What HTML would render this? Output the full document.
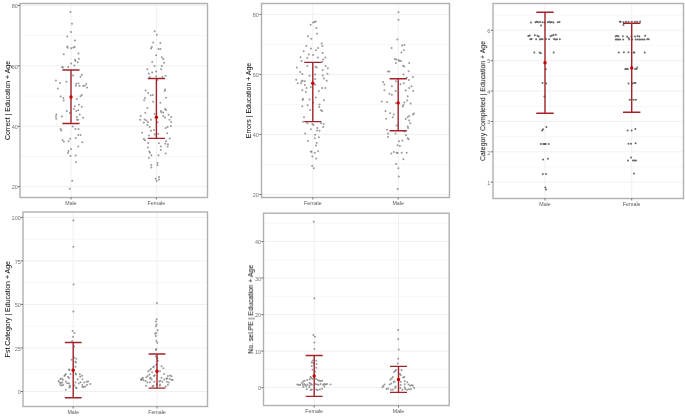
<!DOCTYPE html><html><head><meta charset="utf-8"><style>html,body{margin:0;padding:0;background:#fff;}svg{display:block;}text{font-family:"Liberation Sans", sans-serif;}</style></head><body>
<svg width="685" height="417" viewBox="0 0 685 417">
<rect width="685" height="417" fill="#fff"/>
<line x1="20.0" x2="207.5" y1="156.48" y2="156.48" stroke="#f6f6f6" stroke-width="0.9"/>
<line x1="20.0" x2="207.5" y1="96.05" y2="96.05" stroke="#f6f6f6" stroke-width="0.9"/>
<line x1="20.0" x2="207.5" y1="35.62" y2="35.62" stroke="#f6f6f6" stroke-width="0.9"/>
<line x1="20.0" x2="207.5" y1="186.70" y2="186.70" stroke="#f0f0f0" stroke-width="1"/>
<line x1="20.0" x2="207.5" y1="126.27" y2="126.27" stroke="#f0f0f0" stroke-width="1"/>
<line x1="20.0" x2="207.5" y1="65.83" y2="65.83" stroke="#f0f0f0" stroke-width="1"/>
<line x1="20.0" x2="207.5" y1="5.40" y2="5.40" stroke="#f0f0f0" stroke-width="1"/>
<line x1="71.0" x2="71.0" y1="3.5" y2="197.5" stroke="#f0f0f0" stroke-width="1"/>
<line x1="156.4" x2="156.4" y1="3.5" y2="197.5" stroke="#f0f0f0" stroke-width="1"/>
<circle cx="70.4" cy="12.0" r="1.0" fill="#666" fill-opacity="0.66"/>
<circle cx="72.0" cy="23.7" r="1.0" fill="#666" fill-opacity="0.66"/>
<circle cx="71.0" cy="32.0" r="1.0" fill="#666" fill-opacity="0.66"/>
<circle cx="67.3" cy="36.5" r="1.0" fill="#666" fill-opacity="0.66"/>
<circle cx="74.9" cy="40.5" r="1.0" fill="#666" fill-opacity="0.66"/>
<circle cx="67.3" cy="46.6" r="1.0" fill="#666" fill-opacity="0.66"/>
<circle cx="67.6" cy="47.8" r="1.0" fill="#666" fill-opacity="0.66"/>
<circle cx="71.2" cy="48.3" r="1.0" fill="#666" fill-opacity="0.66"/>
<circle cx="73.4" cy="47.4" r="1.0" fill="#666" fill-opacity="0.66"/>
<circle cx="74.6" cy="47.1" r="1.0" fill="#666" fill-opacity="0.66"/>
<circle cx="63.7" cy="54.2" r="1.0" fill="#666" fill-opacity="0.66"/>
<circle cx="78.5" cy="53.6" r="1.0" fill="#666" fill-opacity="0.66"/>
<circle cx="79.0" cy="58.8" r="1.0" fill="#666" fill-opacity="0.66"/>
<circle cx="75.1" cy="59.8" r="1.0" fill="#666" fill-opacity="0.66"/>
<circle cx="75.4" cy="61.1" r="1.0" fill="#666" fill-opacity="0.66"/>
<circle cx="77.7" cy="62.3" r="1.0" fill="#666" fill-opacity="0.66"/>
<circle cx="71.2" cy="63.4" r="1.0" fill="#666" fill-opacity="0.66"/>
<circle cx="74.3" cy="65.5" r="1.0" fill="#666" fill-opacity="0.66"/>
<circle cx="68.1" cy="66.9" r="1.0" fill="#666" fill-opacity="0.66"/>
<circle cx="62.1" cy="67.0" r="1.0" fill="#666" fill-opacity="0.66"/>
<circle cx="62.9" cy="67.6" r="1.0" fill="#666" fill-opacity="0.66"/>
<circle cx="73.0" cy="75.6" r="1.0" fill="#666" fill-opacity="0.66"/>
<circle cx="80.5" cy="76.7" r="1.0" fill="#666" fill-opacity="0.66"/>
<circle cx="81.8" cy="74.7" r="1.0" fill="#666" fill-opacity="0.66"/>
<circle cx="55.9" cy="80.6" r="1.0" fill="#666" fill-opacity="0.66"/>
<circle cx="66.5" cy="81.7" r="1.0" fill="#666" fill-opacity="0.66"/>
<circle cx="60.1" cy="83.1" r="1.0" fill="#666" fill-opacity="0.66"/>
<circle cx="76.2" cy="83.7" r="1.0" fill="#666" fill-opacity="0.66"/>
<circle cx="78.5" cy="83.4" r="1.0" fill="#666" fill-opacity="0.66"/>
<circle cx="75.9" cy="85.7" r="1.0" fill="#666" fill-opacity="0.66"/>
<circle cx="79.6" cy="86.0" r="1.0" fill="#666" fill-opacity="0.66"/>
<circle cx="83.2" cy="85.7" r="1.0" fill="#666" fill-opacity="0.66"/>
<circle cx="84.7" cy="85.7" r="1.0" fill="#666" fill-opacity="0.66"/>
<circle cx="86.3" cy="84.0" r="1.0" fill="#666" fill-opacity="0.66"/>
<circle cx="87.1" cy="87.6" r="1.0" fill="#666" fill-opacity="0.66"/>
<circle cx="57.8" cy="88.4" r="1.0" fill="#666" fill-opacity="0.66"/>
<circle cx="60.6" cy="96.6" r="1.0" fill="#666" fill-opacity="0.66"/>
<circle cx="63.4" cy="98.0" r="1.0" fill="#666" fill-opacity="0.66"/>
<circle cx="63.7" cy="100.5" r="1.0" fill="#666" fill-opacity="0.66"/>
<circle cx="76.9" cy="99.0" r="1.0" fill="#666" fill-opacity="0.66"/>
<circle cx="80.5" cy="96.2" r="1.0" fill="#666" fill-opacity="0.66"/>
<circle cx="81.8" cy="94.9" r="1.0" fill="#666" fill-opacity="0.66"/>
<circle cx="74.9" cy="106.3" r="1.0" fill="#666" fill-opacity="0.66"/>
<circle cx="79.0" cy="104.7" r="1.0" fill="#666" fill-opacity="0.66"/>
<circle cx="81.8" cy="106.8" r="1.0" fill="#666" fill-opacity="0.66"/>
<circle cx="73.8" cy="109.1" r="1.0" fill="#666" fill-opacity="0.66"/>
<circle cx="76.2" cy="111.0" r="1.0" fill="#666" fill-opacity="0.66"/>
<circle cx="78.2" cy="110.2" r="1.0" fill="#666" fill-opacity="0.66"/>
<circle cx="66.8" cy="111.0" r="1.0" fill="#666" fill-opacity="0.66"/>
<circle cx="69.9" cy="113.0" r="1.0" fill="#666" fill-opacity="0.66"/>
<circle cx="79.7" cy="114.5" r="1.0" fill="#666" fill-opacity="0.66"/>
<circle cx="56.4" cy="114.5" r="1.0" fill="#666" fill-opacity="0.66"/>
<circle cx="55.9" cy="116.4" r="1.0" fill="#666" fill-opacity="0.66"/>
<circle cx="56.2" cy="118.8" r="1.0" fill="#666" fill-opacity="0.66"/>
<circle cx="61.8" cy="116.4" r="1.0" fill="#666" fill-opacity="0.66"/>
<circle cx="76.9" cy="116.9" r="1.0" fill="#666" fill-opacity="0.66"/>
<circle cx="76.9" cy="119.8" r="1.0" fill="#666" fill-opacity="0.66"/>
<circle cx="78.2" cy="119.8" r="1.0" fill="#666" fill-opacity="0.66"/>
<circle cx="83.2" cy="117.7" r="1.0" fill="#666" fill-opacity="0.66"/>
<circle cx="60.6" cy="128.9" r="1.0" fill="#666" fill-opacity="0.66"/>
<circle cx="72.7" cy="126.5" r="1.0" fill="#666" fill-opacity="0.66"/>
<circle cx="75.4" cy="128.9" r="1.0" fill="#666" fill-opacity="0.66"/>
<circle cx="78.5" cy="128.9" r="1.0" fill="#666" fill-opacity="0.66"/>
<circle cx="61.3" cy="130.5" r="1.0" fill="#666" fill-opacity="0.66"/>
<circle cx="78.2" cy="135.1" r="1.0" fill="#666" fill-opacity="0.66"/>
<circle cx="80.5" cy="135.1" r="1.0" fill="#666" fill-opacity="0.66"/>
<circle cx="75.7" cy="137.9" r="1.0" fill="#666" fill-opacity="0.66"/>
<circle cx="70.2" cy="138.7" r="1.0" fill="#666" fill-opacity="0.66"/>
<circle cx="68.5" cy="141.3" r="1.0" fill="#666" fill-opacity="0.66"/>
<circle cx="62.6" cy="140.1" r="1.0" fill="#666" fill-opacity="0.66"/>
<circle cx="63.9" cy="141.8" r="1.0" fill="#666" fill-opacity="0.66"/>
<circle cx="82.2" cy="142.3" r="1.0" fill="#666" fill-opacity="0.66"/>
<circle cx="78.2" cy="146.5" r="1.0" fill="#666" fill-opacity="0.66"/>
<circle cx="71.0" cy="149.0" r="1.0" fill="#666" fill-opacity="0.66"/>
<circle cx="68.5" cy="151.0" r="1.0" fill="#666" fill-opacity="0.66"/>
<circle cx="68.0" cy="153.0" r="1.0" fill="#666" fill-opacity="0.66"/>
<circle cx="70.5" cy="156.0" r="1.0" fill="#666" fill-opacity="0.66"/>
<circle cx="75.7" cy="155.5" r="1.0" fill="#666" fill-opacity="0.66"/>
<circle cx="76.0" cy="161.9" r="1.0" fill="#666" fill-opacity="0.66"/>
<circle cx="72.2" cy="180.8" r="1.0" fill="#666" fill-opacity="0.66"/>
<circle cx="69.8" cy="188.7" r="1.0" fill="#666" fill-opacity="0.66"/>
<circle cx="154.6" cy="31.3" r="1.0" fill="#666" fill-opacity="0.66"/>
<circle cx="156.8" cy="34.8" r="1.0" fill="#666" fill-opacity="0.66"/>
<circle cx="153.2" cy="42.4" r="1.0" fill="#666" fill-opacity="0.66"/>
<circle cx="160.4" cy="43.1" r="1.0" fill="#666" fill-opacity="0.66"/>
<circle cx="151.8" cy="47.1" r="1.0" fill="#666" fill-opacity="0.66"/>
<circle cx="151.0" cy="48.6" r="1.0" fill="#666" fill-opacity="0.66"/>
<circle cx="158.5" cy="48.9" r="1.0" fill="#666" fill-opacity="0.66"/>
<circle cx="160.4" cy="48.9" r="1.0" fill="#666" fill-opacity="0.66"/>
<circle cx="156.1" cy="55.3" r="1.0" fill="#666" fill-opacity="0.66"/>
<circle cx="161.8" cy="57.2" r="1.0" fill="#666" fill-opacity="0.66"/>
<circle cx="163.3" cy="58.9" r="1.0" fill="#666" fill-opacity="0.66"/>
<circle cx="152.2" cy="62.1" r="1.0" fill="#666" fill-opacity="0.66"/>
<circle cx="164.0" cy="62.7" r="1.0" fill="#666" fill-opacity="0.66"/>
<circle cx="154.6" cy="66.1" r="1.0" fill="#666" fill-opacity="0.66"/>
<circle cx="161.8" cy="66.1" r="1.0" fill="#666" fill-opacity="0.66"/>
<circle cx="147.4" cy="69.3" r="1.0" fill="#666" fill-opacity="0.66"/>
<circle cx="161.1" cy="69.3" r="1.0" fill="#666" fill-opacity="0.66"/>
<circle cx="152.2" cy="72.5" r="1.0" fill="#666" fill-opacity="0.66"/>
<circle cx="156.1" cy="71.5" r="1.0" fill="#666" fill-opacity="0.66"/>
<circle cx="148.9" cy="73.6" r="1.0" fill="#666" fill-opacity="0.66"/>
<circle cx="149.6" cy="77.2" r="1.0" fill="#666" fill-opacity="0.66"/>
<circle cx="156.1" cy="76.2" r="1.0" fill="#666" fill-opacity="0.66"/>
<circle cx="162.5" cy="76.8" r="1.0" fill="#666" fill-opacity="0.66"/>
<circle cx="165.7" cy="75.8" r="1.0" fill="#666" fill-opacity="0.66"/>
<circle cx="157.5" cy="80.1" r="1.0" fill="#666" fill-opacity="0.66"/>
<circle cx="145.6" cy="90.6" r="1.0" fill="#666" fill-opacity="0.66"/>
<circle cx="165.1" cy="89.5" r="1.0" fill="#666" fill-opacity="0.66"/>
<circle cx="164.7" cy="90.9" r="1.0" fill="#666" fill-opacity="0.66"/>
<circle cx="148.2" cy="93.1" r="1.0" fill="#666" fill-opacity="0.66"/>
<circle cx="150.7" cy="95.2" r="1.0" fill="#666" fill-opacity="0.66"/>
<circle cx="152.8" cy="94.9" r="1.0" fill="#666" fill-opacity="0.66"/>
<circle cx="145.0" cy="98.1" r="1.0" fill="#666" fill-opacity="0.66"/>
<circle cx="144.1" cy="100.3" r="1.0" fill="#666" fill-opacity="0.66"/>
<circle cx="166.1" cy="97.8" r="1.0" fill="#666" fill-opacity="0.66"/>
<circle cx="153.2" cy="101.7" r="1.0" fill="#666" fill-opacity="0.66"/>
<circle cx="160.4" cy="102.7" r="1.0" fill="#666" fill-opacity="0.66"/>
<circle cx="147.4" cy="107.9" r="1.0" fill="#666" fill-opacity="0.66"/>
<circle cx="165.1" cy="108.9" r="1.0" fill="#666" fill-opacity="0.66"/>
<circle cx="166.1" cy="109.9" r="1.0" fill="#666" fill-opacity="0.66"/>
<circle cx="160.8" cy="111.1" r="1.0" fill="#666" fill-opacity="0.66"/>
<circle cx="161.4" cy="112.2" r="1.0" fill="#666" fill-opacity="0.66"/>
<circle cx="145.3" cy="112.8" r="1.0" fill="#666" fill-opacity="0.66"/>
<circle cx="163.3" cy="112.5" r="1.0" fill="#666" fill-opacity="0.66"/>
<circle cx="154.6" cy="113.9" r="1.0" fill="#666" fill-opacity="0.66"/>
<circle cx="168.6" cy="114.7" r="1.0" fill="#666" fill-opacity="0.66"/>
<circle cx="140.7" cy="116.1" r="1.0" fill="#666" fill-opacity="0.66"/>
<circle cx="163.3" cy="116.1" r="1.0" fill="#666" fill-opacity="0.66"/>
<circle cx="165.1" cy="117.5" r="1.0" fill="#666" fill-opacity="0.66"/>
<circle cx="171.2" cy="117.1" r="1.0" fill="#666" fill-opacity="0.66"/>
<circle cx="140.2" cy="119.7" r="1.0" fill="#666" fill-opacity="0.66"/>
<circle cx="144.6" cy="119.4" r="1.0" fill="#666" fill-opacity="0.66"/>
<circle cx="146.4" cy="120.4" r="1.0" fill="#666" fill-opacity="0.66"/>
<circle cx="151.0" cy="119.7" r="1.0" fill="#666" fill-opacity="0.66"/>
<circle cx="169.5" cy="119.7" r="1.0" fill="#666" fill-opacity="0.66"/>
<circle cx="171.2" cy="121.9" r="1.0" fill="#666" fill-opacity="0.66"/>
<circle cx="147.9" cy="122.3" r="1.0" fill="#666" fill-opacity="0.66"/>
<circle cx="143.8" cy="122.6" r="1.0" fill="#666" fill-opacity="0.66"/>
<circle cx="157.5" cy="122.2" r="1.0" fill="#666" fill-opacity="0.66"/>
<circle cx="147.4" cy="125.0" r="1.0" fill="#666" fill-opacity="0.66"/>
<circle cx="149.6" cy="126.9" r="1.0" fill="#666" fill-opacity="0.66"/>
<circle cx="165.7" cy="127.9" r="1.0" fill="#666" fill-opacity="0.66"/>
<circle cx="167.6" cy="126.9" r="1.0" fill="#666" fill-opacity="0.66"/>
<circle cx="170.9" cy="126.0" r="1.0" fill="#666" fill-opacity="0.66"/>
<circle cx="151.0" cy="130.8" r="1.0" fill="#666" fill-opacity="0.66"/>
<circle cx="153.9" cy="130.1" r="1.0" fill="#666" fill-opacity="0.66"/>
<circle cx="142.1" cy="132.7" r="1.0" fill="#666" fill-opacity="0.66"/>
<circle cx="167.2" cy="133.2" r="1.0" fill="#666" fill-opacity="0.66"/>
<circle cx="148.9" cy="135.5" r="1.0" fill="#666" fill-opacity="0.66"/>
<circle cx="154.6" cy="134.4" r="1.0" fill="#666" fill-opacity="0.66"/>
<circle cx="158.2" cy="134.0" r="1.0" fill="#666" fill-opacity="0.66"/>
<circle cx="143.8" cy="139.0" r="1.0" fill="#666" fill-opacity="0.66"/>
<circle cx="145.0" cy="140.2" r="1.0" fill="#666" fill-opacity="0.66"/>
<circle cx="169.7" cy="138.4" r="1.0" fill="#666" fill-opacity="0.66"/>
<circle cx="166.1" cy="141.3" r="1.0" fill="#666" fill-opacity="0.66"/>
<circle cx="148.2" cy="143.0" r="1.0" fill="#666" fill-opacity="0.66"/>
<circle cx="158.9" cy="143.3" r="1.0" fill="#666" fill-opacity="0.66"/>
<circle cx="165.4" cy="143.8" r="1.0" fill="#666" fill-opacity="0.66"/>
<circle cx="168.0" cy="144.2" r="1.0" fill="#666" fill-opacity="0.66"/>
<circle cx="160.8" cy="146.6" r="1.0" fill="#666" fill-opacity="0.66"/>
<circle cx="167.6" cy="146.6" r="1.0" fill="#666" fill-opacity="0.66"/>
<circle cx="147.9" cy="147.6" r="1.0" fill="#666" fill-opacity="0.66"/>
<circle cx="160.8" cy="149.9" r="1.0" fill="#666" fill-opacity="0.66"/>
<circle cx="149.3" cy="151.4" r="1.0" fill="#666" fill-opacity="0.66"/>
<circle cx="149.9" cy="152.8" r="1.0" fill="#666" fill-opacity="0.66"/>
<circle cx="165.7" cy="153.4" r="1.0" fill="#666" fill-opacity="0.66"/>
<circle cx="151.3" cy="155.3" r="1.0" fill="#666" fill-opacity="0.66"/>
<circle cx="158.5" cy="155.3" r="1.0" fill="#666" fill-opacity="0.66"/>
<circle cx="148.9" cy="157.7" r="1.0" fill="#666" fill-opacity="0.66"/>
<circle cx="157.5" cy="162.9" r="1.0" fill="#666" fill-opacity="0.66"/>
<circle cx="151.3" cy="164.9" r="1.0" fill="#666" fill-opacity="0.66"/>
<circle cx="157.5" cy="165.3" r="1.0" fill="#666" fill-opacity="0.66"/>
<circle cx="151.3" cy="167.5" r="1.0" fill="#666" fill-opacity="0.66"/>
<circle cx="155.7" cy="178.7" r="1.0" fill="#666" fill-opacity="0.66"/>
<circle cx="159.0" cy="177.1" r="1.0" fill="#666" fill-opacity="0.66"/>
<circle cx="159.0" cy="179.6" r="1.0" fill="#666" fill-opacity="0.66"/>
<circle cx="156.7" cy="181.0" r="1.0" fill="#666" fill-opacity="0.66"/>
<path d="M62.4 70H79.6M71.0 70V123.5M62.4 123.5H79.6" stroke="#a3222a" stroke-width="1.4" fill="none"/>
<circle cx="71.0" cy="97" r="1.7" fill="#c80000"/>
<path d="M147.8 78.5H165.0M156.4 78.5V138.4M147.8 138.4H165.0" stroke="#a3222a" stroke-width="1.4" fill="none"/>
<circle cx="156.4" cy="117.2" r="1.7" fill="#c80000"/>
<rect x="20.0" y="3.5" width="187.5" height="194.0" fill="none" stroke="#b0b0b0" stroke-width="1.4"/>
<line x1="17.8" x2="20.0" y1="186.70" y2="186.70" stroke="#666" stroke-width="0.9"/>
<text x="17.80" y="189.40" font-size="5.5" fill="#737373" text-anchor="end" style="will-change:transform">20</text>
<line x1="17.8" x2="20.0" y1="126.27" y2="126.27" stroke="#666" stroke-width="0.9"/>
<text x="17.80" y="128.97" font-size="5.5" fill="#737373" text-anchor="end" style="will-change:transform">40</text>
<line x1="17.8" x2="20.0" y1="65.83" y2="65.83" stroke="#666" stroke-width="0.9"/>
<text x="17.80" y="68.53" font-size="5.5" fill="#737373" text-anchor="end" style="will-change:transform">60</text>
<line x1="17.8" x2="20.0" y1="5.40" y2="5.40" stroke="#666" stroke-width="0.9"/>
<text x="17.80" y="8.10" font-size="5.5" fill="#737373" text-anchor="end" style="will-change:transform">80</text>
<line x1="71.0" x2="71.0" y1="197.5" y2="199.5" stroke="#666" stroke-width="0.9"/>
<text x="71.0" y="204.8" font-size="5.3" fill="#5a5a5a" text-anchor="middle" style="will-change:transform">Male</text>
<line x1="156.4" x2="156.4" y1="197.5" y2="199.5" stroke="#666" stroke-width="0.9"/>
<text x="156.4" y="204.8" font-size="5.3" fill="#5a5a5a" text-anchor="middle" style="will-change:transform">Female</text>
<text x="0" y="0" transform="translate(9.6,100.5) rotate(-90)" font-size="6.95" fill="#000" text-anchor="middle">Correct | Education + Age</text>
<line x1="261.5" x2="449.5" y1="164.48" y2="164.48" stroke="#f6f6f6" stroke-width="0.9"/>
<line x1="261.5" x2="449.5" y1="104.45" y2="104.45" stroke="#f6f6f6" stroke-width="0.9"/>
<line x1="261.5" x2="449.5" y1="44.42" y2="44.42" stroke="#f6f6f6" stroke-width="0.9"/>
<line x1="261.5" x2="449.5" y1="194.50" y2="194.50" stroke="#f0f0f0" stroke-width="1"/>
<line x1="261.5" x2="449.5" y1="134.47" y2="134.47" stroke="#f0f0f0" stroke-width="1"/>
<line x1="261.5" x2="449.5" y1="74.43" y2="74.43" stroke="#f0f0f0" stroke-width="1"/>
<line x1="261.5" x2="449.5" y1="14.40" y2="14.40" stroke="#f0f0f0" stroke-width="1"/>
<line x1="312.8" x2="312.8" y1="3.5" y2="197.5" stroke="#f0f0f0" stroke-width="1"/>
<line x1="398.2" x2="398.2" y1="3.5" y2="197.5" stroke="#f0f0f0" stroke-width="1"/>
<circle cx="310.6" cy="24.8" r="1.0" fill="#666" fill-opacity="0.66"/>
<circle cx="313.1" cy="22.5" r="1.0" fill="#666" fill-opacity="0.66"/>
<circle cx="314.5" cy="21.9" r="1.0" fill="#666" fill-opacity="0.66"/>
<circle cx="315.7" cy="21.5" r="1.0" fill="#666" fill-opacity="0.66"/>
<circle cx="316.4" cy="28.0" r="1.0" fill="#666" fill-opacity="0.66"/>
<circle cx="317.0" cy="33.7" r="1.0" fill="#666" fill-opacity="0.66"/>
<circle cx="308.0" cy="36.3" r="1.0" fill="#666" fill-opacity="0.66"/>
<circle cx="311.3" cy="38.8" r="1.0" fill="#666" fill-opacity="0.66"/>
<circle cx="321.7" cy="43.5" r="1.0" fill="#666" fill-opacity="0.66"/>
<circle cx="306.3" cy="46.0" r="1.0" fill="#666" fill-opacity="0.66"/>
<circle cx="322.4" cy="46.0" r="1.0" fill="#666" fill-opacity="0.66"/>
<circle cx="310.9" cy="48.4" r="1.0" fill="#666" fill-opacity="0.66"/>
<circle cx="318.1" cy="48.1" r="1.0" fill="#666" fill-opacity="0.66"/>
<circle cx="316.0" cy="50.3" r="1.0" fill="#666" fill-opacity="0.66"/>
<circle cx="303.7" cy="51.3" r="1.0" fill="#666" fill-opacity="0.66"/>
<circle cx="322.7" cy="53.1" r="1.0" fill="#666" fill-opacity="0.66"/>
<circle cx="308.8" cy="54.6" r="1.0" fill="#666" fill-opacity="0.66"/>
<circle cx="313.1" cy="55.0" r="1.0" fill="#666" fill-opacity="0.66"/>
<circle cx="300.5" cy="57.2" r="1.0" fill="#666" fill-opacity="0.66"/>
<circle cx="307.3" cy="57.9" r="1.0" fill="#666" fill-opacity="0.66"/>
<circle cx="317.8" cy="57.5" r="1.0" fill="#666" fill-opacity="0.66"/>
<circle cx="325.3" cy="57.5" r="1.0" fill="#666" fill-opacity="0.66"/>
<circle cx="323.1" cy="59.6" r="1.0" fill="#666" fill-opacity="0.66"/>
<circle cx="301.6" cy="61.1" r="1.0" fill="#666" fill-opacity="0.66"/>
<circle cx="322.1" cy="61.8" r="1.0" fill="#666" fill-opacity="0.66"/>
<circle cx="296.8" cy="67.5" r="1.0" fill="#666" fill-opacity="0.66"/>
<circle cx="307.3" cy="66.1" r="1.0" fill="#666" fill-opacity="0.66"/>
<circle cx="315.5" cy="66.8" r="1.0" fill="#666" fill-opacity="0.66"/>
<circle cx="316.7" cy="67.5" r="1.0" fill="#666" fill-opacity="0.66"/>
<circle cx="325.6" cy="66.1" r="1.0" fill="#666" fill-opacity="0.66"/>
<circle cx="327.9" cy="68.3" r="1.0" fill="#666" fill-opacity="0.66"/>
<circle cx="322.7" cy="70.0" r="1.0" fill="#666" fill-opacity="0.66"/>
<circle cx="300.1" cy="71.9" r="1.0" fill="#666" fill-opacity="0.66"/>
<circle cx="302.3" cy="74.0" r="1.0" fill="#666" fill-opacity="0.66"/>
<circle cx="327.5" cy="73.7" r="1.0" fill="#666" fill-opacity="0.66"/>
<circle cx="309.5" cy="75.8" r="1.0" fill="#666" fill-opacity="0.66"/>
<circle cx="315.2" cy="74.6" r="1.0" fill="#666" fill-opacity="0.66"/>
<circle cx="322.7" cy="75.5" r="1.0" fill="#666" fill-opacity="0.66"/>
<circle cx="323.9" cy="78.6" r="1.0" fill="#666" fill-opacity="0.66"/>
<circle cx="315.2" cy="78.9" r="1.0" fill="#666" fill-opacity="0.66"/>
<circle cx="296.2" cy="79.8" r="1.0" fill="#666" fill-opacity="0.66"/>
<circle cx="301.6" cy="81.2" r="1.0" fill="#666" fill-opacity="0.66"/>
<circle cx="302.6" cy="80.8" r="1.0" fill="#666" fill-opacity="0.66"/>
<circle cx="304.9" cy="81.2" r="1.0" fill="#666" fill-opacity="0.66"/>
<circle cx="326.7" cy="80.8" r="1.0" fill="#666" fill-opacity="0.66"/>
<circle cx="297.7" cy="83.2" r="1.0" fill="#666" fill-opacity="0.66"/>
<circle cx="301.1" cy="83.2" r="1.0" fill="#666" fill-opacity="0.66"/>
<circle cx="304.9" cy="85.1" r="1.0" fill="#666" fill-opacity="0.66"/>
<circle cx="315.2" cy="84.7" r="1.0" fill="#666" fill-opacity="0.66"/>
<circle cx="310.9" cy="87.0" r="1.0" fill="#666" fill-opacity="0.66"/>
<circle cx="306.6" cy="88.0" r="1.0" fill="#666" fill-opacity="0.66"/>
<circle cx="322.1" cy="88.0" r="1.0" fill="#666" fill-opacity="0.66"/>
<circle cx="325.3" cy="88.0" r="1.0" fill="#666" fill-opacity="0.66"/>
<circle cx="302.3" cy="90.2" r="1.0" fill="#666" fill-opacity="0.66"/>
<circle cx="318.8" cy="90.9" r="1.0" fill="#666" fill-opacity="0.66"/>
<circle cx="305.9" cy="91.9" r="1.0" fill="#666" fill-opacity="0.66"/>
<circle cx="315.9" cy="97.6" r="1.0" fill="#666" fill-opacity="0.66"/>
<circle cx="303.0" cy="98.8" r="1.0" fill="#666" fill-opacity="0.66"/>
<circle cx="302.6" cy="99.9" r="1.0" fill="#666" fill-opacity="0.66"/>
<circle cx="309.5" cy="99.5" r="1.0" fill="#666" fill-opacity="0.66"/>
<circle cx="323.9" cy="100.2" r="1.0" fill="#666" fill-opacity="0.66"/>
<circle cx="313.1" cy="102.4" r="1.0" fill="#666" fill-opacity="0.66"/>
<circle cx="319.5" cy="104.5" r="1.0" fill="#666" fill-opacity="0.66"/>
<circle cx="307.7" cy="105.3" r="1.0" fill="#666" fill-opacity="0.66"/>
<circle cx="302.3" cy="106.3" r="1.0" fill="#666" fill-opacity="0.66"/>
<circle cx="319.3" cy="107.1" r="1.0" fill="#666" fill-opacity="0.66"/>
<circle cx="310.2" cy="110.0" r="1.0" fill="#666" fill-opacity="0.66"/>
<circle cx="321.0" cy="110.3" r="1.0" fill="#666" fill-opacity="0.66"/>
<circle cx="322.1" cy="111.0" r="1.0" fill="#666" fill-opacity="0.66"/>
<circle cx="304.0" cy="117.2" r="1.0" fill="#666" fill-opacity="0.66"/>
<circle cx="303.0" cy="121.8" r="1.0" fill="#666" fill-opacity="0.66"/>
<circle cx="307.3" cy="123.3" r="1.0" fill="#666" fill-opacity="0.66"/>
<circle cx="312.4" cy="124.0" r="1.0" fill="#666" fill-opacity="0.66"/>
<circle cx="313.5" cy="125.0" r="1.0" fill="#666" fill-opacity="0.66"/>
<circle cx="321.0" cy="123.3" r="1.0" fill="#666" fill-opacity="0.66"/>
<circle cx="323.6" cy="124.0" r="1.0" fill="#666" fill-opacity="0.66"/>
<circle cx="323.1" cy="126.9" r="1.0" fill="#666" fill-opacity="0.66"/>
<circle cx="317.4" cy="127.9" r="1.0" fill="#666" fill-opacity="0.66"/>
<circle cx="310.9" cy="129.3" r="1.0" fill="#666" fill-opacity="0.66"/>
<circle cx="317.0" cy="130.5" r="1.0" fill="#666" fill-opacity="0.66"/>
<circle cx="319.5" cy="130.8" r="1.0" fill="#666" fill-opacity="0.66"/>
<circle cx="305.2" cy="133.6" r="1.0" fill="#666" fill-opacity="0.66"/>
<circle cx="315.2" cy="134.8" r="1.0" fill="#666" fill-opacity="0.66"/>
<circle cx="318.8" cy="137.2" r="1.0" fill="#666" fill-opacity="0.66"/>
<circle cx="314.9" cy="138.2" r="1.0" fill="#666" fill-opacity="0.66"/>
<circle cx="308.0" cy="141.1" r="1.0" fill="#666" fill-opacity="0.66"/>
<circle cx="316.7" cy="143.0" r="1.0" fill="#666" fill-opacity="0.66"/>
<circle cx="315.9" cy="145.4" r="1.0" fill="#666" fill-opacity="0.66"/>
<circle cx="310.9" cy="151.6" r="1.0" fill="#666" fill-opacity="0.66"/>
<circle cx="311.6" cy="152.1" r="1.0" fill="#666" fill-opacity="0.66"/>
<circle cx="314.9" cy="152.8" r="1.0" fill="#666" fill-opacity="0.66"/>
<circle cx="318.1" cy="151.3" r="1.0" fill="#666" fill-opacity="0.66"/>
<circle cx="312.4" cy="156.4" r="1.0" fill="#666" fill-opacity="0.66"/>
<circle cx="316.2" cy="158.4" r="1.0" fill="#666" fill-opacity="0.66"/>
<circle cx="312.1" cy="166.0" r="1.0" fill="#666" fill-opacity="0.66"/>
<circle cx="313.8" cy="168.2" r="1.0" fill="#666" fill-opacity="0.66"/>
<circle cx="398.5" cy="12.2" r="1.0" fill="#666" fill-opacity="0.66"/>
<circle cx="398.5" cy="19.8" r="1.0" fill="#666" fill-opacity="0.66"/>
<circle cx="397.3" cy="39.5" r="1.0" fill="#666" fill-opacity="0.66"/>
<circle cx="402.0" cy="45.6" r="1.0" fill="#666" fill-opacity="0.66"/>
<circle cx="404.3" cy="45.0" r="1.0" fill="#666" fill-opacity="0.66"/>
<circle cx="391.6" cy="47.9" r="1.0" fill="#666" fill-opacity="0.66"/>
<circle cx="403.8" cy="50.3" r="1.0" fill="#666" fill-opacity="0.66"/>
<circle cx="401.4" cy="52.5" r="1.0" fill="#666" fill-opacity="0.66"/>
<circle cx="394.8" cy="59.0" r="1.0" fill="#666" fill-opacity="0.66"/>
<circle cx="396.2" cy="59.4" r="1.0" fill="#666" fill-opacity="0.66"/>
<circle cx="398.5" cy="60.0" r="1.0" fill="#666" fill-opacity="0.66"/>
<circle cx="399.5" cy="61.1" r="1.0" fill="#666" fill-opacity="0.66"/>
<circle cx="400.9" cy="60.9" r="1.0" fill="#666" fill-opacity="0.66"/>
<circle cx="395.9" cy="62.9" r="1.0" fill="#666" fill-opacity="0.66"/>
<circle cx="409.2" cy="62.9" r="1.0" fill="#666" fill-opacity="0.66"/>
<circle cx="403.1" cy="65.8" r="1.0" fill="#666" fill-opacity="0.66"/>
<circle cx="404.3" cy="66.5" r="1.0" fill="#666" fill-opacity="0.66"/>
<circle cx="388.0" cy="71.5" r="1.0" fill="#666" fill-opacity="0.66"/>
<circle cx="389.4" cy="71.5" r="1.0" fill="#666" fill-opacity="0.66"/>
<circle cx="408.6" cy="71.2" r="1.0" fill="#666" fill-opacity="0.66"/>
<circle cx="403.4" cy="74.4" r="1.0" fill="#666" fill-opacity="0.66"/>
<circle cx="412.9" cy="77.0" r="1.0" fill="#666" fill-opacity="0.66"/>
<circle cx="406.7" cy="77.6" r="1.0" fill="#666" fill-opacity="0.66"/>
<circle cx="408.9" cy="79.9" r="1.0" fill="#666" fill-opacity="0.66"/>
<circle cx="383.2" cy="81.9" r="1.0" fill="#666" fill-opacity="0.66"/>
<circle cx="384.4" cy="84.5" r="1.0" fill="#666" fill-opacity="0.66"/>
<circle cx="395.9" cy="81.3" r="1.0" fill="#666" fill-opacity="0.66"/>
<circle cx="400.5" cy="84.2" r="1.0" fill="#666" fill-opacity="0.66"/>
<circle cx="403.8" cy="83.3" r="1.0" fill="#666" fill-opacity="0.66"/>
<circle cx="391.9" cy="86.3" r="1.0" fill="#666" fill-opacity="0.66"/>
<circle cx="411.5" cy="86.3" r="1.0" fill="#666" fill-opacity="0.66"/>
<circle cx="409.2" cy="88.1" r="1.0" fill="#666" fill-opacity="0.66"/>
<circle cx="384.4" cy="90.2" r="1.0" fill="#666" fill-opacity="0.66"/>
<circle cx="395.6" cy="90.9" r="1.0" fill="#666" fill-opacity="0.66"/>
<circle cx="405.7" cy="90.5" r="1.0" fill="#666" fill-opacity="0.66"/>
<circle cx="413.2" cy="90.9" r="1.0" fill="#666" fill-opacity="0.66"/>
<circle cx="389.4" cy="93.8" r="1.0" fill="#666" fill-opacity="0.66"/>
<circle cx="391.9" cy="94.8" r="1.0" fill="#666" fill-opacity="0.66"/>
<circle cx="407.7" cy="96.3" r="1.0" fill="#666" fill-opacity="0.66"/>
<circle cx="381.8" cy="101.5" r="1.0" fill="#666" fill-opacity="0.66"/>
<circle cx="387.0" cy="102.0" r="1.0" fill="#666" fill-opacity="0.66"/>
<circle cx="395.9" cy="102.9" r="1.0" fill="#666" fill-opacity="0.66"/>
<circle cx="407.1" cy="100.6" r="1.0" fill="#666" fill-opacity="0.66"/>
<circle cx="410.6" cy="103.5" r="1.0" fill="#666" fill-opacity="0.66"/>
<circle cx="404.3" cy="102.5" r="1.0" fill="#666" fill-opacity="0.66"/>
<circle cx="403.4" cy="104.9" r="1.0" fill="#666" fill-opacity="0.66"/>
<circle cx="402.8" cy="106.4" r="1.0" fill="#666" fill-opacity="0.66"/>
<circle cx="385.5" cy="111.1" r="1.0" fill="#666" fill-opacity="0.66"/>
<circle cx="390.2" cy="113.3" r="1.0" fill="#666" fill-opacity="0.66"/>
<circle cx="393.8" cy="114.4" r="1.0" fill="#666" fill-opacity="0.66"/>
<circle cx="412.9" cy="114.4" r="1.0" fill="#666" fill-opacity="0.66"/>
<circle cx="413.9" cy="113.5" r="1.0" fill="#666" fill-opacity="0.66"/>
<circle cx="409.2" cy="116.1" r="1.0" fill="#666" fill-opacity="0.66"/>
<circle cx="407.7" cy="117.3" r="1.0" fill="#666" fill-opacity="0.66"/>
<circle cx="392.7" cy="117.3" r="1.0" fill="#666" fill-opacity="0.66"/>
<circle cx="386.1" cy="118.7" r="1.0" fill="#666" fill-opacity="0.66"/>
<circle cx="405.7" cy="119.0" r="1.0" fill="#666" fill-opacity="0.66"/>
<circle cx="409.2" cy="120.5" r="1.0" fill="#666" fill-opacity="0.66"/>
<circle cx="410.3" cy="123.3" r="1.0" fill="#666" fill-opacity="0.66"/>
<circle cx="396.6" cy="125.4" r="1.0" fill="#666" fill-opacity="0.66"/>
<circle cx="407.7" cy="126.5" r="1.0" fill="#666" fill-opacity="0.66"/>
<circle cx="408.1" cy="128.0" r="1.0" fill="#666" fill-opacity="0.66"/>
<circle cx="387.0" cy="129.7" r="1.0" fill="#666" fill-opacity="0.66"/>
<circle cx="404.5" cy="131.6" r="1.0" fill="#666" fill-opacity="0.66"/>
<circle cx="388.0" cy="133.4" r="1.0" fill="#666" fill-opacity="0.66"/>
<circle cx="395.6" cy="133.4" r="1.0" fill="#666" fill-opacity="0.66"/>
<circle cx="406.0" cy="135.2" r="1.0" fill="#666" fill-opacity="0.66"/>
<circle cx="388.0" cy="136.9" r="1.0" fill="#666" fill-opacity="0.66"/>
<circle cx="407.7" cy="138.3" r="1.0" fill="#666" fill-opacity="0.66"/>
<circle cx="408.6" cy="139.2" r="1.0" fill="#666" fill-opacity="0.66"/>
<circle cx="399.1" cy="141.2" r="1.0" fill="#666" fill-opacity="0.66"/>
<circle cx="402.4" cy="140.6" r="1.0" fill="#666" fill-opacity="0.66"/>
<circle cx="397.6" cy="145.2" r="1.0" fill="#666" fill-opacity="0.66"/>
<circle cx="399.9" cy="146.0" r="1.0" fill="#666" fill-opacity="0.66"/>
<circle cx="391.3" cy="153.6" r="1.0" fill="#666" fill-opacity="0.66"/>
<circle cx="393.8" cy="152.1" r="1.0" fill="#666" fill-opacity="0.66"/>
<circle cx="396.6" cy="152.7" r="1.0" fill="#666" fill-opacity="0.66"/>
<circle cx="397.6" cy="153.1" r="1.0" fill="#666" fill-opacity="0.66"/>
<circle cx="401.7" cy="152.7" r="1.0" fill="#666" fill-opacity="0.66"/>
<circle cx="406.7" cy="152.7" r="1.0" fill="#666" fill-opacity="0.66"/>
<circle cx="403.4" cy="159.3" r="1.0" fill="#666" fill-opacity="0.66"/>
<circle cx="396.2" cy="163.9" r="1.0" fill="#666" fill-opacity="0.66"/>
<circle cx="398.4" cy="168.3" r="1.0" fill="#666" fill-opacity="0.66"/>
<circle cx="398.8" cy="176.5" r="1.0" fill="#666" fill-opacity="0.66"/>
<circle cx="397.7" cy="189.0" r="1.0" fill="#666" fill-opacity="0.66"/>
<path d="M304.2 62.4H321.4M312.8 62.4V121.6M304.2 121.6H321.4" stroke="#a3222a" stroke-width="1.4" fill="none"/>
<circle cx="312.8" cy="83.2" r="1.7" fill="#c80000"/>
<path d="M389.6 78.7H406.8M398.2 78.7V130.7M389.6 130.7H406.8" stroke="#a3222a" stroke-width="1.4" fill="none"/>
<circle cx="398.2" cy="102.9" r="1.7" fill="#c80000"/>
<rect x="261.5" y="3.5" width="188.0" height="194.0" fill="none" stroke="#b0b0b0" stroke-width="1.4"/>
<line x1="259.3" x2="261.5" y1="194.50" y2="194.50" stroke="#666" stroke-width="0.9"/>
<text x="258.90" y="197.20" font-size="5.5" fill="#737373" text-anchor="end" style="will-change:transform">20</text>
<line x1="259.3" x2="261.5" y1="134.47" y2="134.47" stroke="#666" stroke-width="0.9"/>
<text x="258.90" y="137.17" font-size="5.5" fill="#737373" text-anchor="end" style="will-change:transform">40</text>
<line x1="259.3" x2="261.5" y1="74.43" y2="74.43" stroke="#666" stroke-width="0.9"/>
<text x="258.90" y="77.13" font-size="5.5" fill="#737373" text-anchor="end" style="will-change:transform">60</text>
<line x1="259.3" x2="261.5" y1="14.40" y2="14.40" stroke="#666" stroke-width="0.9"/>
<text x="258.90" y="17.10" font-size="5.5" fill="#737373" text-anchor="end" style="will-change:transform">80</text>
<line x1="312.8" x2="312.8" y1="197.5" y2="199.5" stroke="#666" stroke-width="0.9"/>
<text x="312.8" y="204.8" font-size="5.3" fill="#5a5a5a" text-anchor="middle" style="will-change:transform">Female</text>
<line x1="398.2" x2="398.2" y1="197.5" y2="199.5" stroke="#666" stroke-width="0.9"/>
<text x="398.2" y="204.8" font-size="5.3" fill="#5a5a5a" text-anchor="middle" style="will-change:transform">Male</text>
<text x="0" y="0" transform="translate(250.7,100.5) rotate(-90)" font-size="6.95" fill="#000" text-anchor="middle">Errors | Education + Age</text>
<line x1="493.0" x2="683.5" y1="167.01" y2="167.01" stroke="#f6f6f6" stroke-width="0.9"/>
<line x1="493.0" x2="683.5" y1="136.63" y2="136.63" stroke="#f6f6f6" stroke-width="0.9"/>
<line x1="493.0" x2="683.5" y1="106.25" y2="106.25" stroke="#f6f6f6" stroke-width="0.9"/>
<line x1="493.0" x2="683.5" y1="75.87" y2="75.87" stroke="#f6f6f6" stroke-width="0.9"/>
<line x1="493.0" x2="683.5" y1="45.49" y2="45.49" stroke="#f6f6f6" stroke-width="0.9"/>
<line x1="493.0" x2="683.5" y1="15.11" y2="15.11" stroke="#f6f6f6" stroke-width="0.9"/>
<line x1="493.0" x2="683.5" y1="182.20" y2="182.20" stroke="#f0f0f0" stroke-width="1"/>
<line x1="493.0" x2="683.5" y1="151.82" y2="151.82" stroke="#f0f0f0" stroke-width="1"/>
<line x1="493.0" x2="683.5" y1="121.44" y2="121.44" stroke="#f0f0f0" stroke-width="1"/>
<line x1="493.0" x2="683.5" y1="91.06" y2="91.06" stroke="#f0f0f0" stroke-width="1"/>
<line x1="493.0" x2="683.5" y1="60.68" y2="60.68" stroke="#f0f0f0" stroke-width="1"/>
<line x1="493.0" x2="683.5" y1="30.30" y2="30.30" stroke="#f0f0f0" stroke-width="1"/>
<line x1="545.0" x2="545.0" y1="3.5" y2="198.5" stroke="#f0f0f0" stroke-width="1"/>
<line x1="631.7" x2="631.7" y1="3.5" y2="198.5" stroke="#f0f0f0" stroke-width="1"/>
<circle cx="531.0" cy="22.5" r="1.0" fill="#444" fill-opacity="0.8"/>
<circle cx="535.5" cy="22.2" r="1.0" fill="#444" fill-opacity="0.8"/>
<circle cx="536.8" cy="21.8" r="1.0" fill="#444" fill-opacity="0.8"/>
<circle cx="538.0" cy="22.2" r="1.0" fill="#444" fill-opacity="0.8"/>
<circle cx="540.0" cy="22.0" r="1.0" fill="#444" fill-opacity="0.8"/>
<circle cx="541.0" cy="25.5" r="1.0" fill="#444" fill-opacity="0.8"/>
<circle cx="542.5" cy="22.3" r="1.0" fill="#444" fill-opacity="0.8"/>
<circle cx="544.5" cy="22.5" r="1.0" fill="#444" fill-opacity="0.8"/>
<circle cx="547.8" cy="22.2" r="1.0" fill="#444" fill-opacity="0.8"/>
<circle cx="549.2" cy="21.8" r="1.0" fill="#444" fill-opacity="0.8"/>
<circle cx="550.5" cy="22.5" r="1.0" fill="#444" fill-opacity="0.8"/>
<circle cx="551.8" cy="22.0" r="1.0" fill="#444" fill-opacity="0.8"/>
<circle cx="553.5" cy="22.4" r="1.0" fill="#444" fill-opacity="0.8"/>
<circle cx="557.8" cy="22.3" r="1.0" fill="#444" fill-opacity="0.8"/>
<circle cx="559.5" cy="22.0" r="1.0" fill="#444" fill-opacity="0.8"/>
<circle cx="528.3" cy="36.0" r="1.0" fill="#444" fill-opacity="0.8"/>
<circle cx="529.8" cy="35.5" r="1.0" fill="#444" fill-opacity="0.8"/>
<circle cx="534.8" cy="35.3" r="1.0" fill="#444" fill-opacity="0.8"/>
<circle cx="537.5" cy="35.8" r="1.0" fill="#444" fill-opacity="0.8"/>
<circle cx="538.8" cy="36.5" r="1.0" fill="#444" fill-opacity="0.8"/>
<circle cx="550.5" cy="36.3" r="1.0" fill="#444" fill-opacity="0.8"/>
<circle cx="552.0" cy="35.5" r="1.0" fill="#444" fill-opacity="0.8"/>
<circle cx="553.6" cy="35.0" r="1.0" fill="#444" fill-opacity="0.8"/>
<circle cx="555.9" cy="34.8" r="1.0" fill="#444" fill-opacity="0.8"/>
<circle cx="530.3" cy="39.2" r="1.0" fill="#444" fill-opacity="0.8"/>
<circle cx="531.6" cy="39.0" r="1.0" fill="#444" fill-opacity="0.8"/>
<circle cx="536.1" cy="39.2" r="1.0" fill="#444" fill-opacity="0.8"/>
<circle cx="539.8" cy="39.5" r="1.0" fill="#444" fill-opacity="0.8"/>
<circle cx="541.2" cy="39.0" r="1.0" fill="#444" fill-opacity="0.8"/>
<circle cx="542.6" cy="39.2" r="1.0" fill="#444" fill-opacity="0.8"/>
<circle cx="546.0" cy="39.0" r="1.0" fill="#444" fill-opacity="0.8"/>
<circle cx="549.0" cy="39.3" r="1.0" fill="#444" fill-opacity="0.8"/>
<circle cx="554.0" cy="39.0" r="1.0" fill="#444" fill-opacity="0.8"/>
<circle cx="555.5" cy="39.4" r="1.0" fill="#444" fill-opacity="0.8"/>
<circle cx="557.0" cy="39.2" r="1.0" fill="#444" fill-opacity="0.8"/>
<circle cx="559.8" cy="39.2" r="1.0" fill="#444" fill-opacity="0.8"/>
<circle cx="534.3" cy="52.4" r="1.0" fill="#444" fill-opacity="0.8"/>
<circle cx="539.7" cy="52.4" r="1.0" fill="#444" fill-opacity="0.8"/>
<circle cx="540.8" cy="53.2" r="1.0" fill="#444" fill-opacity="0.8"/>
<circle cx="553.7" cy="52.4" r="1.0" fill="#444" fill-opacity="0.8"/>
<circle cx="545.8" cy="69.3" r="1.0" fill="#444" fill-opacity="0.8"/>
<circle cx="542.5" cy="83.0" r="1.0" fill="#444" fill-opacity="0.8"/>
<circle cx="546.1" cy="83.4" r="1.0" fill="#444" fill-opacity="0.8"/>
<circle cx="544.4" cy="96.6" r="1.0" fill="#444" fill-opacity="0.8"/>
<circle cx="543.0" cy="129.2" r="1.0" fill="#444" fill-opacity="0.8"/>
<circle cx="542.1" cy="130.4" r="1.0" fill="#444" fill-opacity="0.8"/>
<circle cx="546.4" cy="127.1" r="1.0" fill="#444" fill-opacity="0.8"/>
<circle cx="540.8" cy="144.0" r="1.0" fill="#444" fill-opacity="0.8"/>
<circle cx="543.3" cy="144.0" r="1.0" fill="#444" fill-opacity="0.8"/>
<circle cx="544.7" cy="144.0" r="1.0" fill="#444" fill-opacity="0.8"/>
<circle cx="545.8" cy="144.0" r="1.0" fill="#444" fill-opacity="0.8"/>
<circle cx="548.8" cy="144.0" r="1.0" fill="#444" fill-opacity="0.8"/>
<circle cx="543.1" cy="159.5" r="1.0" fill="#444" fill-opacity="0.8"/>
<circle cx="547.9" cy="158.8" r="1.0" fill="#444" fill-opacity="0.8"/>
<circle cx="542.8" cy="174.0" r="1.0" fill="#444" fill-opacity="0.8"/>
<circle cx="546.0" cy="174.0" r="1.0" fill="#444" fill-opacity="0.8"/>
<circle cx="545.3" cy="187.4" r="1.0" fill="#444" fill-opacity="0.8"/>
<circle cx="546.0" cy="189.4" r="1.0" fill="#444" fill-opacity="0.8"/>
<circle cx="619.9" cy="21.8" r="1.0" fill="#444" fill-opacity="0.8"/>
<circle cx="620.6" cy="21.8" r="1.0" fill="#444" fill-opacity="0.8"/>
<circle cx="623.5" cy="22.2" r="1.0" fill="#444" fill-opacity="0.8"/>
<circle cx="626.0" cy="21.8" r="1.0" fill="#444" fill-opacity="0.8"/>
<circle cx="628.5" cy="21.8" r="1.0" fill="#444" fill-opacity="0.8"/>
<circle cx="631.8" cy="21.8" r="1.0" fill="#444" fill-opacity="0.8"/>
<circle cx="635.0" cy="21.8" r="1.0" fill="#444" fill-opacity="0.8"/>
<circle cx="637.2" cy="21.8" r="1.0" fill="#444" fill-opacity="0.8"/>
<circle cx="640.1" cy="21.5" r="1.0" fill="#444" fill-opacity="0.8"/>
<circle cx="623.5" cy="25.1" r="1.0" fill="#444" fill-opacity="0.8"/>
<circle cx="615.6" cy="36.2" r="1.0" fill="#444" fill-opacity="0.8"/>
<circle cx="617.0" cy="35.8" r="1.0" fill="#444" fill-opacity="0.8"/>
<circle cx="618.5" cy="36.2" r="1.0" fill="#444" fill-opacity="0.8"/>
<circle cx="622.8" cy="36.2" r="1.0" fill="#444" fill-opacity="0.8"/>
<circle cx="627.1" cy="36.5" r="1.0" fill="#444" fill-opacity="0.8"/>
<circle cx="628.5" cy="38.0" r="1.0" fill="#444" fill-opacity="0.8"/>
<circle cx="631.4" cy="36.2" r="1.0" fill="#444" fill-opacity="0.8"/>
<circle cx="635.0" cy="36.4" r="1.0" fill="#444" fill-opacity="0.8"/>
<circle cx="637.5" cy="36.0" r="1.0" fill="#444" fill-opacity="0.8"/>
<circle cx="639.3" cy="36.4" r="1.0" fill="#444" fill-opacity="0.8"/>
<circle cx="645.1" cy="35.8" r="1.0" fill="#444" fill-opacity="0.8"/>
<circle cx="615.8" cy="39.5" r="1.0" fill="#444" fill-opacity="0.8"/>
<circle cx="617.2" cy="39.5" r="1.0" fill="#444" fill-opacity="0.8"/>
<circle cx="618.6" cy="39.5" r="1.0" fill="#444" fill-opacity="0.8"/>
<circle cx="620.2" cy="39.5" r="1.0" fill="#444" fill-opacity="0.8"/>
<circle cx="623.2" cy="39.5" r="1.0" fill="#444" fill-opacity="0.8"/>
<circle cx="629.3" cy="39.5" r="1.0" fill="#444" fill-opacity="0.8"/>
<circle cx="632.1" cy="39.5" r="1.0" fill="#444" fill-opacity="0.8"/>
<circle cx="635.7" cy="39.5" r="1.0" fill="#444" fill-opacity="0.8"/>
<circle cx="637.5" cy="39.5" r="1.0" fill="#444" fill-opacity="0.8"/>
<circle cx="639.3" cy="39.5" r="1.0" fill="#444" fill-opacity="0.8"/>
<circle cx="641.0" cy="39.5" r="1.0" fill="#444" fill-opacity="0.8"/>
<circle cx="642.8" cy="39.5" r="1.0" fill="#444" fill-opacity="0.8"/>
<circle cx="644.5" cy="39.5" r="1.0" fill="#444" fill-opacity="0.8"/>
<circle cx="647.3" cy="39.3" r="1.0" fill="#444" fill-opacity="0.8"/>
<circle cx="648.7" cy="39.3" r="1.0" fill="#444" fill-opacity="0.8"/>
<circle cx="618.8" cy="52.4" r="1.0" fill="#444" fill-opacity="0.8"/>
<circle cx="623.9" cy="52.2" r="1.0" fill="#444" fill-opacity="0.8"/>
<circle cx="628.5" cy="52.2" r="1.0" fill="#444" fill-opacity="0.8"/>
<circle cx="633.6" cy="52.6" r="1.0" fill="#444" fill-opacity="0.8"/>
<circle cx="634.3" cy="52.6" r="1.0" fill="#444" fill-opacity="0.8"/>
<circle cx="644.7" cy="52.4" r="1.0" fill="#444" fill-opacity="0.8"/>
<circle cx="625.3" cy="69.0" r="1.0" fill="#444" fill-opacity="0.8"/>
<circle cx="626.4" cy="69.0" r="1.0" fill="#444" fill-opacity="0.8"/>
<circle cx="627.8" cy="69.0" r="1.0" fill="#444" fill-opacity="0.8"/>
<circle cx="635.0" cy="69.0" r="1.0" fill="#444" fill-opacity="0.8"/>
<circle cx="636.5" cy="69.0" r="1.0" fill="#444" fill-opacity="0.8"/>
<circle cx="637.2" cy="67.4" r="1.0" fill="#444" fill-opacity="0.8"/>
<circle cx="628.5" cy="83.4" r="1.0" fill="#444" fill-opacity="0.8"/>
<circle cx="632.3" cy="83.4" r="1.0" fill="#444" fill-opacity="0.8"/>
<circle cx="634.1" cy="83.1" r="1.0" fill="#444" fill-opacity="0.8"/>
<circle cx="635.5" cy="82.9" r="1.0" fill="#444" fill-opacity="0.8"/>
<circle cx="629.6" cy="99.8" r="1.0" fill="#444" fill-opacity="0.8"/>
<circle cx="631.4" cy="99.8" r="1.0" fill="#444" fill-opacity="0.8"/>
<circle cx="633.7" cy="99.8" r="1.0" fill="#444" fill-opacity="0.8"/>
<circle cx="636.0" cy="99.8" r="1.0" fill="#444" fill-opacity="0.8"/>
<circle cx="627.6" cy="130.6" r="1.0" fill="#444" fill-opacity="0.8"/>
<circle cx="631.6" cy="130.4" r="1.0" fill="#444" fill-opacity="0.8"/>
<circle cx="635.3" cy="129.0" r="1.0" fill="#444" fill-opacity="0.8"/>
<circle cx="628.5" cy="143.7" r="1.0" fill="#444" fill-opacity="0.8"/>
<circle cx="631.0" cy="143.7" r="1.0" fill="#444" fill-opacity="0.8"/>
<circle cx="635.6" cy="143.2" r="1.0" fill="#444" fill-opacity="0.8"/>
<circle cx="631.0" cy="157.4" r="1.0" fill="#444" fill-opacity="0.8"/>
<circle cx="628.0" cy="160.6" r="1.0" fill="#444" fill-opacity="0.8"/>
<circle cx="633.0" cy="160.6" r="1.0" fill="#444" fill-opacity="0.8"/>
<circle cx="634.5" cy="160.6" r="1.0" fill="#444" fill-opacity="0.8"/>
<circle cx="636.0" cy="160.6" r="1.0" fill="#444" fill-opacity="0.8"/>
<circle cx="634.0" cy="173.4" r="1.0" fill="#444" fill-opacity="0.8"/>
<path d="M536.3 12.2H553.7M545.0 12.2V113.2M536.3 113.2H553.7" stroke="#a3222a" stroke-width="1.4" fill="none"/>
<circle cx="545.0" cy="62.8" r="1.7" fill="#c80000"/>
<path d="M623.0 23.2H640.4M631.7 23.2V112.3M623.0 112.3H640.4" stroke="#a3222a" stroke-width="1.4" fill="none"/>
<circle cx="631.7" cy="68.0" r="1.7" fill="#c80000"/>
<rect x="493.0" y="3.5" width="190.5" height="195.0" fill="none" stroke="#b0b0b0" stroke-width="1.4"/>
<line x1="490.8" x2="493.0" y1="182.20" y2="182.20" stroke="#666" stroke-width="0.9"/>
<text x="490.20" y="184.90" font-size="5.5" fill="#737373" text-anchor="end" style="will-change:transform">1</text>
<line x1="490.8" x2="493.0" y1="151.82" y2="151.82" stroke="#666" stroke-width="0.9"/>
<text x="490.20" y="154.52" font-size="5.5" fill="#737373" text-anchor="end" style="will-change:transform">2</text>
<line x1="490.8" x2="493.0" y1="121.44" y2="121.44" stroke="#666" stroke-width="0.9"/>
<text x="490.20" y="124.14" font-size="5.5" fill="#737373" text-anchor="end" style="will-change:transform">3</text>
<line x1="490.8" x2="493.0" y1="91.06" y2="91.06" stroke="#666" stroke-width="0.9"/>
<text x="490.20" y="93.76" font-size="5.5" fill="#737373" text-anchor="end" style="will-change:transform">4</text>
<line x1="490.8" x2="493.0" y1="60.68" y2="60.68" stroke="#666" stroke-width="0.9"/>
<text x="490.20" y="63.38" font-size="5.5" fill="#737373" text-anchor="end" style="will-change:transform">5</text>
<line x1="490.8" x2="493.0" y1="30.30" y2="30.30" stroke="#666" stroke-width="0.9"/>
<text x="490.20" y="33.00" font-size="5.5" fill="#737373" text-anchor="end" style="will-change:transform">6</text>
<line x1="545.0" x2="545.0" y1="198.5" y2="200.5" stroke="#666" stroke-width="0.9"/>
<text x="545.0" y="205.5" font-size="5.3" fill="#5a5a5a" text-anchor="middle" style="will-change:transform">Male</text>
<line x1="631.7" x2="631.7" y1="198.5" y2="200.5" stroke="#666" stroke-width="0.9"/>
<text x="631.7" y="205.5" font-size="5.3" fill="#5a5a5a" text-anchor="middle" style="will-change:transform">Female</text>
<text x="0" y="0" transform="translate(485.2,101.0) rotate(-90)" font-size="6.95" fill="#000" text-anchor="middle">Category Completed | Education + Age</text>
<line x1="23.0" x2="207.5" y1="369.74" y2="369.74" stroke="#f6f6f6" stroke-width="0.9"/>
<line x1="23.0" x2="207.5" y1="326.21" y2="326.21" stroke="#f6f6f6" stroke-width="0.9"/>
<line x1="23.0" x2="207.5" y1="282.69" y2="282.69" stroke="#f6f6f6" stroke-width="0.9"/>
<line x1="23.0" x2="207.5" y1="239.16" y2="239.16" stroke="#f6f6f6" stroke-width="0.9"/>
<line x1="23.0" x2="207.5" y1="391.50" y2="391.50" stroke="#f0f0f0" stroke-width="1"/>
<line x1="23.0" x2="207.5" y1="347.98" y2="347.98" stroke="#f0f0f0" stroke-width="1"/>
<line x1="23.0" x2="207.5" y1="304.45" y2="304.45" stroke="#f0f0f0" stroke-width="1"/>
<line x1="23.0" x2="207.5" y1="260.93" y2="260.93" stroke="#f0f0f0" stroke-width="1"/>
<line x1="23.0" x2="207.5" y1="217.40" y2="217.40" stroke="#f0f0f0" stroke-width="1"/>
<line x1="73.2" x2="73.2" y1="212.0" y2="406.5" stroke="#f0f0f0" stroke-width="1"/>
<line x1="157.0" x2="157.0" y1="212.0" y2="406.5" stroke="#f0f0f0" stroke-width="1"/>
<circle cx="73.4" cy="220.6" r="1.0" fill="#666" fill-opacity="0.66"/>
<circle cx="73.4" cy="246.8" r="1.0" fill="#666" fill-opacity="0.66"/>
<circle cx="73.6" cy="284.4" r="1.0" fill="#666" fill-opacity="0.66"/>
<circle cx="73.4" cy="311.4" r="1.0" fill="#666" fill-opacity="0.66"/>
<circle cx="72.6" cy="331.0" r="1.0" fill="#666" fill-opacity="0.66"/>
<circle cx="74.5" cy="332.9" r="1.0" fill="#666" fill-opacity="0.66"/>
<circle cx="73.0" cy="336.7" r="1.0" fill="#666" fill-opacity="0.66"/>
<circle cx="72.1" cy="340.9" r="1.0" fill="#666" fill-opacity="0.66"/>
<circle cx="74.1" cy="346.6" r="1.0" fill="#666" fill-opacity="0.66"/>
<circle cx="74.3" cy="357.6" r="1.0" fill="#666" fill-opacity="0.66"/>
<circle cx="76.4" cy="358.7" r="1.0" fill="#666" fill-opacity="0.66"/>
<circle cx="71.6" cy="359.7" r="1.0" fill="#666" fill-opacity="0.66"/>
<circle cx="75.4" cy="361.8" r="1.0" fill="#666" fill-opacity="0.66"/>
<circle cx="76.0" cy="362.4" r="1.0" fill="#666" fill-opacity="0.66"/>
<circle cx="75.4" cy="366.8" r="1.0" fill="#666" fill-opacity="0.66"/>
<circle cx="69.3" cy="369.5" r="1.0" fill="#666" fill-opacity="0.66"/>
<circle cx="69.4" cy="370.0" r="1.0" fill="#666" fill-opacity="0.66"/>
<circle cx="65.8" cy="373.9" r="1.0" fill="#666" fill-opacity="0.66"/>
<circle cx="65.1" cy="375.0" r="1.0" fill="#666" fill-opacity="0.66"/>
<circle cx="64.4" cy="376.1" r="1.0" fill="#666" fill-opacity="0.66"/>
<circle cx="70.5" cy="374.1" r="1.0" fill="#666" fill-opacity="0.66"/>
<circle cx="68.0" cy="376.8" r="1.0" fill="#666" fill-opacity="0.66"/>
<circle cx="69.0" cy="377.9" r="1.0" fill="#666" fill-opacity="0.66"/>
<circle cx="75.5" cy="373.2" r="1.0" fill="#666" fill-opacity="0.66"/>
<circle cx="75.9" cy="374.6" r="1.0" fill="#666" fill-opacity="0.66"/>
<circle cx="79.8" cy="374.3" r="1.0" fill="#666" fill-opacity="0.66"/>
<circle cx="80.2" cy="376.8" r="1.0" fill="#666" fill-opacity="0.66"/>
<circle cx="82.0" cy="375.7" r="1.0" fill="#666" fill-opacity="0.66"/>
<circle cx="77.7" cy="379.3" r="1.0" fill="#666" fill-opacity="0.66"/>
<circle cx="82.4" cy="379.3" r="1.0" fill="#666" fill-opacity="0.66"/>
<circle cx="60.4" cy="379.0" r="1.0" fill="#666" fill-opacity="0.66"/>
<circle cx="61.8" cy="378.6" r="1.0" fill="#666" fill-opacity="0.66"/>
<circle cx="62.9" cy="379.7" r="1.0" fill="#666" fill-opacity="0.66"/>
<circle cx="58.6" cy="381.1" r="1.0" fill="#666" fill-opacity="0.66"/>
<circle cx="59.7" cy="382.6" r="1.0" fill="#666" fill-opacity="0.66"/>
<circle cx="60.8" cy="382.9" r="1.0" fill="#666" fill-opacity="0.66"/>
<circle cx="62.2" cy="382.6" r="1.0" fill="#666" fill-opacity="0.66"/>
<circle cx="60.4" cy="385.1" r="1.0" fill="#666" fill-opacity="0.66"/>
<circle cx="61.8" cy="385.4" r="1.0" fill="#666" fill-opacity="0.66"/>
<circle cx="63.3" cy="384.7" r="1.0" fill="#666" fill-opacity="0.66"/>
<circle cx="65.8" cy="381.5" r="1.0" fill="#666" fill-opacity="0.66"/>
<circle cx="67.2" cy="383.3" r="1.0" fill="#666" fill-opacity="0.66"/>
<circle cx="69.0" cy="383.3" r="1.0" fill="#666" fill-opacity="0.66"/>
<circle cx="69.8" cy="385.4" r="1.0" fill="#666" fill-opacity="0.66"/>
<circle cx="70.1" cy="386.5" r="1.0" fill="#666" fill-opacity="0.66"/>
<circle cx="69.4" cy="387.6" r="1.0" fill="#666" fill-opacity="0.66"/>
<circle cx="75.5" cy="382.6" r="1.0" fill="#666" fill-opacity="0.66"/>
<circle cx="78.8" cy="383.6" r="1.0" fill="#666" fill-opacity="0.66"/>
<circle cx="80.6" cy="382.2" r="1.0" fill="#666" fill-opacity="0.66"/>
<circle cx="84.2" cy="382.6" r="1.0" fill="#666" fill-opacity="0.66"/>
<circle cx="86.7" cy="381.8" r="1.0" fill="#666" fill-opacity="0.66"/>
<circle cx="88.1" cy="381.5" r="1.0" fill="#666" fill-opacity="0.66"/>
<circle cx="87.0" cy="384.7" r="1.0" fill="#666" fill-opacity="0.66"/>
<circle cx="90.3" cy="384.0" r="1.0" fill="#666" fill-opacity="0.66"/>
<circle cx="82.4" cy="385.1" r="1.0" fill="#666" fill-opacity="0.66"/>
<circle cx="82.4" cy="386.9" r="1.0" fill="#666" fill-opacity="0.66"/>
<circle cx="83.8" cy="386.9" r="1.0" fill="#666" fill-opacity="0.66"/>
<circle cx="85.2" cy="386.5" r="1.0" fill="#666" fill-opacity="0.66"/>
<circle cx="75.9" cy="387.6" r="1.0" fill="#666" fill-opacity="0.66"/>
<circle cx="76.6" cy="388.3" r="1.0" fill="#666" fill-opacity="0.66"/>
<circle cx="65.8" cy="389.8" r="1.0" fill="#666" fill-opacity="0.66"/>
<circle cx="74.4" cy="385.4" r="1.0" fill="#666" fill-opacity="0.66"/>
<circle cx="156.9" cy="302.9" r="1.0" fill="#666" fill-opacity="0.66"/>
<circle cx="156.6" cy="319.2" r="1.0" fill="#666" fill-opacity="0.66"/>
<circle cx="155.8" cy="321.6" r="1.0" fill="#666" fill-opacity="0.66"/>
<circle cx="156.6" cy="324.5" r="1.0" fill="#666" fill-opacity="0.66"/>
<circle cx="155.8" cy="326.3" r="1.0" fill="#666" fill-opacity="0.66"/>
<circle cx="157.7" cy="330.2" r="1.0" fill="#666" fill-opacity="0.66"/>
<circle cx="156.3" cy="332.7" r="1.0" fill="#666" fill-opacity="0.66"/>
<circle cx="155.1" cy="333.8" r="1.0" fill="#666" fill-opacity="0.66"/>
<circle cx="155.8" cy="336.0" r="1.0" fill="#666" fill-opacity="0.66"/>
<circle cx="156.3" cy="341.0" r="1.0" fill="#666" fill-opacity="0.66"/>
<circle cx="157.3" cy="342.7" r="1.0" fill="#666" fill-opacity="0.66"/>
<circle cx="156.3" cy="348.9" r="1.0" fill="#666" fill-opacity="0.66"/>
<circle cx="155.8" cy="349.9" r="1.0" fill="#666" fill-opacity="0.66"/>
<circle cx="155.8" cy="356.5" r="1.0" fill="#666" fill-opacity="0.66"/>
<circle cx="157.5" cy="358.3" r="1.0" fill="#666" fill-opacity="0.66"/>
<circle cx="157.9" cy="360.8" r="1.0" fill="#666" fill-opacity="0.66"/>
<circle cx="156.1" cy="364.7" r="1.0" fill="#666" fill-opacity="0.66"/>
<circle cx="153.9" cy="366.5" r="1.0" fill="#666" fill-opacity="0.66"/>
<circle cx="153.2" cy="367.3" r="1.0" fill="#666" fill-opacity="0.66"/>
<circle cx="161.5" cy="366.2" r="1.0" fill="#666" fill-opacity="0.66"/>
<circle cx="163.3" cy="368.3" r="1.0" fill="#666" fill-opacity="0.66"/>
<circle cx="151.0" cy="368.8" r="1.0" fill="#666" fill-opacity="0.66"/>
<circle cx="150.0" cy="370.1" r="1.0" fill="#666" fill-opacity="0.66"/>
<circle cx="148.2" cy="371.2" r="1.0" fill="#666" fill-opacity="0.66"/>
<circle cx="152.1" cy="372.3" r="1.0" fill="#666" fill-opacity="0.66"/>
<circle cx="160.0" cy="371.2" r="1.0" fill="#666" fill-opacity="0.66"/>
<circle cx="149.6" cy="374.5" r="1.0" fill="#666" fill-opacity="0.66"/>
<circle cx="164.0" cy="374.1" r="1.0" fill="#666" fill-opacity="0.66"/>
<circle cx="147.8" cy="375.9" r="1.0" fill="#666" fill-opacity="0.66"/>
<circle cx="146.4" cy="377.3" r="1.0" fill="#666" fill-opacity="0.66"/>
<circle cx="153.9" cy="375.9" r="1.0" fill="#666" fill-opacity="0.66"/>
<circle cx="154.6" cy="375.2" r="1.0" fill="#666" fill-opacity="0.66"/>
<circle cx="167.9" cy="376.0" r="1.0" fill="#666" fill-opacity="0.66"/>
<circle cx="170.1" cy="375.5" r="1.0" fill="#666" fill-opacity="0.66"/>
<circle cx="171.5" cy="376.3" r="1.0" fill="#666" fill-opacity="0.66"/>
<circle cx="142.8" cy="377.7" r="1.0" fill="#666" fill-opacity="0.66"/>
<circle cx="150.7" cy="377.7" r="1.0" fill="#666" fill-opacity="0.66"/>
<circle cx="161.5" cy="377.7" r="1.0" fill="#666" fill-opacity="0.66"/>
<circle cx="141.3" cy="379.1" r="1.0" fill="#666" fill-opacity="0.66"/>
<circle cx="166.5" cy="378.4" r="1.0" fill="#666" fill-opacity="0.66"/>
<circle cx="169.7" cy="379.1" r="1.0" fill="#666" fill-opacity="0.66"/>
<circle cx="141.0" cy="380.0" r="1.0" fill="#666" fill-opacity="0.66"/>
<circle cx="142.4" cy="378.9" r="1.0" fill="#666" fill-opacity="0.66"/>
<circle cx="143.5" cy="380.3" r="1.0" fill="#666" fill-opacity="0.66"/>
<circle cx="145.6" cy="381.1" r="1.0" fill="#666" fill-opacity="0.66"/>
<circle cx="147.4" cy="382.6" r="1.0" fill="#666" fill-opacity="0.66"/>
<circle cx="150.0" cy="378.5" r="1.0" fill="#666" fill-opacity="0.66"/>
<circle cx="151.7" cy="379.6" r="1.0" fill="#666" fill-opacity="0.66"/>
<circle cx="150.0" cy="382.2" r="1.0" fill="#666" fill-opacity="0.66"/>
<circle cx="154.3" cy="381.8" r="1.0" fill="#666" fill-opacity="0.66"/>
<circle cx="146.0" cy="385.8" r="1.0" fill="#666" fill-opacity="0.66"/>
<circle cx="152.5" cy="386.2" r="1.0" fill="#666" fill-opacity="0.66"/>
<circle cx="153.5" cy="385.8" r="1.0" fill="#666" fill-opacity="0.66"/>
<circle cx="156.8" cy="384.4" r="1.0" fill="#666" fill-opacity="0.66"/>
<circle cx="159.3" cy="381.5" r="1.0" fill="#666" fill-opacity="0.66"/>
<circle cx="160.4" cy="380.8" r="1.0" fill="#666" fill-opacity="0.66"/>
<circle cx="162.5" cy="381.8" r="1.0" fill="#666" fill-opacity="0.66"/>
<circle cx="164.3" cy="379.6" r="1.0" fill="#666" fill-opacity="0.66"/>
<circle cx="160.0" cy="384.4" r="1.0" fill="#666" fill-opacity="0.66"/>
<circle cx="159.9" cy="385.8" r="1.0" fill="#666" fill-opacity="0.66"/>
<circle cx="166.9" cy="381.8" r="1.0" fill="#666" fill-opacity="0.66"/>
<circle cx="168.7" cy="382.6" r="1.0" fill="#666" fill-opacity="0.66"/>
<circle cx="167.9" cy="384.7" r="1.0" fill="#666" fill-opacity="0.66"/>
<circle cx="165.8" cy="386.5" r="1.0" fill="#666" fill-opacity="0.66"/>
<circle cx="167.2" cy="378.5" r="1.0" fill="#666" fill-opacity="0.66"/>
<circle cx="171.5" cy="379.7" r="1.0" fill="#666" fill-opacity="0.66"/>
<circle cx="172.6" cy="379.9" r="1.0" fill="#666" fill-opacity="0.66"/>
<path d="M64.8 342.5H81.6M73.2 342.5V397.7M64.8 397.7H81.6" stroke="#a3222a" stroke-width="1.4" fill="none"/>
<circle cx="73.2" cy="370.3" r="1.7" fill="#c80000"/>
<path d="M148.6 354H165.4M157.0 354V388.1M148.6 388.1H165.4" stroke="#a3222a" stroke-width="1.4" fill="none"/>
<circle cx="157.0" cy="371.2" r="1.7" fill="#c80000"/>
<rect x="23.0" y="212.0" width="184.5" height="194.5" fill="none" stroke="#b0b0b0" stroke-width="1.4"/>
<line x1="20.8" x2="23.0" y1="391.50" y2="391.50" stroke="#666" stroke-width="0.9"/>
<text x="20.80" y="394.20" font-size="5.5" fill="#737373" text-anchor="end" style="will-change:transform">0</text>
<line x1="20.8" x2="23.0" y1="347.98" y2="347.98" stroke="#666" stroke-width="0.9"/>
<text x="20.80" y="350.68" font-size="5.5" fill="#737373" text-anchor="end" style="will-change:transform">25</text>
<line x1="20.8" x2="23.0" y1="304.45" y2="304.45" stroke="#666" stroke-width="0.9"/>
<text x="20.80" y="307.15" font-size="5.5" fill="#737373" text-anchor="end" style="will-change:transform">50</text>
<line x1="20.8" x2="23.0" y1="260.93" y2="260.93" stroke="#666" stroke-width="0.9"/>
<text x="20.80" y="263.62" font-size="5.5" fill="#737373" text-anchor="end" style="will-change:transform">75</text>
<line x1="20.8" x2="23.0" y1="217.40" y2="217.40" stroke="#666" stroke-width="0.9"/>
<text x="20.80" y="220.10" font-size="5.5" fill="#737373" text-anchor="end" style="will-change:transform">100</text>
<line x1="73.2" x2="73.2" y1="406.5" y2="408.5" stroke="#666" stroke-width="0.9"/>
<text x="73.2" y="413.8" font-size="5.3" fill="#5a5a5a" text-anchor="middle" style="will-change:transform">Male</text>
<line x1="157.0" x2="157.0" y1="406.5" y2="408.5" stroke="#666" stroke-width="0.9"/>
<text x="157.0" y="413.8" font-size="5.3" fill="#5a5a5a" text-anchor="middle" style="will-change:transform">Female</text>
<text x="0" y="0" transform="translate(9.9,309.2) rotate(-90)" font-size="6.95" fill="#000" text-anchor="middle">Fst.Category | Education + Age</text>
<line x1="263.5" x2="449.2" y1="369.34" y2="369.34" stroke="#f6f6f6" stroke-width="0.9"/>
<line x1="263.5" x2="449.2" y1="332.83" y2="332.83" stroke="#f6f6f6" stroke-width="0.9"/>
<line x1="263.5" x2="449.2" y1="296.32" y2="296.32" stroke="#f6f6f6" stroke-width="0.9"/>
<line x1="263.5" x2="449.2" y1="259.81" y2="259.81" stroke="#f6f6f6" stroke-width="0.9"/>
<line x1="263.5" x2="449.2" y1="223.30" y2="223.30" stroke="#f6f6f6" stroke-width="0.9"/>
<line x1="263.5" x2="449.2" y1="387.60" y2="387.60" stroke="#f0f0f0" stroke-width="1"/>
<line x1="263.5" x2="449.2" y1="351.09" y2="351.09" stroke="#f0f0f0" stroke-width="1"/>
<line x1="263.5" x2="449.2" y1="314.58" y2="314.58" stroke="#f0f0f0" stroke-width="1"/>
<line x1="263.5" x2="449.2" y1="278.07" y2="278.07" stroke="#f0f0f0" stroke-width="1"/>
<line x1="263.5" x2="449.2" y1="241.56" y2="241.56" stroke="#f0f0f0" stroke-width="1"/>
<line x1="314.2" x2="314.2" y1="213.2" y2="405.5" stroke="#f0f0f0" stroke-width="1"/>
<line x1="398.5" x2="398.5" y1="213.2" y2="405.5" stroke="#f0f0f0" stroke-width="1"/>
<circle cx="313.7" cy="221.7" r="1.0" fill="#666" fill-opacity="0.66"/>
<circle cx="314.4" cy="298.2" r="1.0" fill="#666" fill-opacity="0.66"/>
<circle cx="313.4" cy="334.9" r="1.0" fill="#666" fill-opacity="0.66"/>
<circle cx="314.9" cy="336.8" r="1.0" fill="#666" fill-opacity="0.66"/>
<circle cx="314.4" cy="342.5" r="1.0" fill="#666" fill-opacity="0.66"/>
<circle cx="314.4" cy="349.0" r="1.0" fill="#666" fill-opacity="0.66"/>
<circle cx="312.5" cy="360.4" r="1.0" fill="#666" fill-opacity="0.66"/>
<circle cx="316.2" cy="360.8" r="1.0" fill="#666" fill-opacity="0.66"/>
<circle cx="311.5" cy="362.4" r="1.0" fill="#666" fill-opacity="0.66"/>
<circle cx="313.2" cy="362.8" r="1.0" fill="#666" fill-opacity="0.66"/>
<circle cx="316.5" cy="364.1" r="1.0" fill="#666" fill-opacity="0.66"/>
<circle cx="311.8" cy="366.0" r="1.0" fill="#666" fill-opacity="0.66"/>
<circle cx="316.2" cy="367.8" r="1.0" fill="#666" fill-opacity="0.66"/>
<circle cx="312.5" cy="369.8" r="1.0" fill="#666" fill-opacity="0.66"/>
<circle cx="315.2" cy="371.5" r="1.0" fill="#666" fill-opacity="0.66"/>
<circle cx="310.5" cy="376.9" r="1.0" fill="#666" fill-opacity="0.66"/>
<circle cx="311.2" cy="377.8" r="1.0" fill="#666" fill-opacity="0.66"/>
<circle cx="309.7" cy="379.3" r="1.0" fill="#666" fill-opacity="0.66"/>
<circle cx="312.3" cy="378.9" r="1.0" fill="#666" fill-opacity="0.66"/>
<circle cx="315.9" cy="378.9" r="1.0" fill="#666" fill-opacity="0.66"/>
<circle cx="317.7" cy="380.0" r="1.0" fill="#666" fill-opacity="0.66"/>
<circle cx="319.2" cy="380.8" r="1.0" fill="#666" fill-opacity="0.66"/>
<circle cx="320.7" cy="381.1" r="1.0" fill="#666" fill-opacity="0.66"/>
<circle cx="322.1" cy="380.8" r="1.0" fill="#666" fill-opacity="0.66"/>
<circle cx="303.1" cy="381.5" r="1.0" fill="#666" fill-opacity="0.66"/>
<circle cx="304.6" cy="380.8" r="1.0" fill="#666" fill-opacity="0.66"/>
<circle cx="307.2" cy="380.0" r="1.0" fill="#666" fill-opacity="0.66"/>
<circle cx="302.0" cy="383.0" r="1.0" fill="#666" fill-opacity="0.66"/>
<circle cx="297.3" cy="384.4" r="1.0" fill="#666" fill-opacity="0.66"/>
<circle cx="298.8" cy="385.1" r="1.0" fill="#666" fill-opacity="0.66"/>
<circle cx="300.2" cy="384.8" r="1.0" fill="#666" fill-opacity="0.66"/>
<circle cx="302.8" cy="385.1" r="1.0" fill="#666" fill-opacity="0.66"/>
<circle cx="304.2" cy="384.0" r="1.0" fill="#666" fill-opacity="0.66"/>
<circle cx="305.3" cy="385.1" r="1.0" fill="#666" fill-opacity="0.66"/>
<circle cx="306.4" cy="386.2" r="1.0" fill="#666" fill-opacity="0.66"/>
<circle cx="303.5" cy="387.0" r="1.0" fill="#666" fill-opacity="0.66"/>
<circle cx="307.5" cy="384.4" r="1.0" fill="#666" fill-opacity="0.66"/>
<circle cx="309.7" cy="383.0" r="1.0" fill="#666" fill-opacity="0.66"/>
<circle cx="310.8" cy="383.7" r="1.0" fill="#666" fill-opacity="0.66"/>
<circle cx="311.9" cy="384.8" r="1.0" fill="#666" fill-opacity="0.66"/>
<circle cx="309.7" cy="385.5" r="1.0" fill="#666" fill-opacity="0.66"/>
<circle cx="315.5" cy="384.0" r="1.0" fill="#666" fill-opacity="0.66"/>
<circle cx="317.0" cy="384.4" r="1.0" fill="#666" fill-opacity="0.66"/>
<circle cx="318.5" cy="384.8" r="1.0" fill="#666" fill-opacity="0.66"/>
<circle cx="320.7" cy="384.0" r="1.0" fill="#666" fill-opacity="0.66"/>
<circle cx="323.2" cy="384.8" r="1.0" fill="#666" fill-opacity="0.66"/>
<circle cx="324.3" cy="384.0" r="1.0" fill="#666" fill-opacity="0.66"/>
<circle cx="325.8" cy="384.4" r="1.0" fill="#666" fill-opacity="0.66"/>
<circle cx="326.9" cy="384.0" r="1.0" fill="#666" fill-opacity="0.66"/>
<circle cx="330.5" cy="384.4" r="1.0" fill="#666" fill-opacity="0.66"/>
<circle cx="324.3" cy="386.6" r="1.0" fill="#666" fill-opacity="0.66"/>
<circle cx="306.8" cy="389.2" r="1.0" fill="#666" fill-opacity="0.66"/>
<circle cx="310.8" cy="389.9" r="1.0" fill="#666" fill-opacity="0.66"/>
<circle cx="311.9" cy="389.5" r="1.0" fill="#666" fill-opacity="0.66"/>
<circle cx="316.3" cy="389.5" r="1.0" fill="#666" fill-opacity="0.66"/>
<circle cx="317.7" cy="389.9" r="1.0" fill="#666" fill-opacity="0.66"/>
<circle cx="319.9" cy="389.5" r="1.0" fill="#666" fill-opacity="0.66"/>
<circle cx="322.1" cy="388.8" r="1.0" fill="#666" fill-opacity="0.66"/>
<circle cx="309.3" cy="387.3" r="1.0" fill="#666" fill-opacity="0.66"/>
<circle cx="398.2" cy="329.9" r="1.0" fill="#666" fill-opacity="0.66"/>
<circle cx="398.2" cy="339.0" r="1.0" fill="#666" fill-opacity="0.66"/>
<circle cx="398.7" cy="349.6" r="1.0" fill="#666" fill-opacity="0.66"/>
<circle cx="398.2" cy="358.8" r="1.0" fill="#666" fill-opacity="0.66"/>
<circle cx="397.8" cy="363.5" r="1.0" fill="#666" fill-opacity="0.66"/>
<circle cx="396.0" cy="369.9" r="1.0" fill="#666" fill-opacity="0.66"/>
<circle cx="395.2" cy="371.1" r="1.0" fill="#666" fill-opacity="0.66"/>
<circle cx="394.0" cy="371.9" r="1.0" fill="#666" fill-opacity="0.66"/>
<circle cx="401.5" cy="369.9" r="1.0" fill="#666" fill-opacity="0.66"/>
<circle cx="399.9" cy="373.9" r="1.0" fill="#666" fill-opacity="0.66"/>
<circle cx="400.7" cy="375.1" r="1.0" fill="#666" fill-opacity="0.66"/>
<circle cx="403.1" cy="377.4" r="1.0" fill="#666" fill-opacity="0.66"/>
<circle cx="404.3" cy="377.0" r="1.0" fill="#666" fill-opacity="0.66"/>
<circle cx="392.8" cy="377.0" r="1.0" fill="#666" fill-opacity="0.66"/>
<circle cx="391.6" cy="378.6" r="1.0" fill="#666" fill-opacity="0.66"/>
<circle cx="390.4" cy="379.8" r="1.0" fill="#666" fill-opacity="0.66"/>
<circle cx="394.8" cy="381.4" r="1.0" fill="#666" fill-opacity="0.66"/>
<circle cx="393.6" cy="382.2" r="1.0" fill="#666" fill-opacity="0.66"/>
<circle cx="404.7" cy="381.0" r="1.0" fill="#666" fill-opacity="0.66"/>
<circle cx="407.1" cy="382.2" r="1.0" fill="#666" fill-opacity="0.66"/>
<circle cx="400.7" cy="381.8" r="1.0" fill="#666" fill-opacity="0.66"/>
<circle cx="391.2" cy="383.4" r="1.0" fill="#666" fill-opacity="0.66"/>
<circle cx="389.7" cy="384.5" r="1.0" fill="#666" fill-opacity="0.66"/>
<circle cx="384.5" cy="384.5" r="1.0" fill="#666" fill-opacity="0.66"/>
<circle cx="383.3" cy="386.1" r="1.0" fill="#666" fill-opacity="0.66"/>
<circle cx="382.5" cy="387.3" r="1.0" fill="#666" fill-opacity="0.66"/>
<circle cx="386.5" cy="388.9" r="1.0" fill="#666" fill-opacity="0.66"/>
<circle cx="388.1" cy="388.5" r="1.0" fill="#666" fill-opacity="0.66"/>
<circle cx="390.8" cy="389.7" r="1.0" fill="#666" fill-opacity="0.66"/>
<circle cx="392.8" cy="389.7" r="1.0" fill="#666" fill-opacity="0.66"/>
<circle cx="395.2" cy="388.1" r="1.0" fill="#666" fill-opacity="0.66"/>
<circle cx="395.6" cy="386.5" r="1.0" fill="#666" fill-opacity="0.66"/>
<circle cx="400.7" cy="384.9" r="1.0" fill="#666" fill-opacity="0.66"/>
<circle cx="400.3" cy="388.1" r="1.0" fill="#666" fill-opacity="0.66"/>
<circle cx="402.3" cy="389.7" r="1.0" fill="#666" fill-opacity="0.66"/>
<circle cx="404.7" cy="384.2" r="1.0" fill="#666" fill-opacity="0.66"/>
<circle cx="404.7" cy="387.3" r="1.0" fill="#666" fill-opacity="0.66"/>
<circle cx="405.1" cy="388.9" r="1.0" fill="#666" fill-opacity="0.66"/>
<circle cx="407.1" cy="389.7" r="1.0" fill="#666" fill-opacity="0.66"/>
<circle cx="408.6" cy="384.5" r="1.0" fill="#666" fill-opacity="0.66"/>
<circle cx="410.2" cy="385.7" r="1.0" fill="#666" fill-opacity="0.66"/>
<circle cx="411.8" cy="384.9" r="1.0" fill="#666" fill-opacity="0.66"/>
<circle cx="413.0" cy="385.7" r="1.0" fill="#666" fill-opacity="0.66"/>
<circle cx="414.2" cy="388.1" r="1.0" fill="#666" fill-opacity="0.66"/>
<circle cx="411.0" cy="388.9" r="1.0" fill="#666" fill-opacity="0.66"/>
<circle cx="409.0" cy="389.3" r="1.0" fill="#666" fill-opacity="0.66"/>
<path d="M305.7 355.5H322.7M314.2 355.5V396.4M305.7 396.4H322.7" stroke="#a3222a" stroke-width="1.4" fill="none"/>
<circle cx="314.2" cy="376" r="1.7" fill="#c80000"/>
<path d="M390.0 366.4H407.0M398.5 366.4V392.4M390.0 392.4H407.0" stroke="#a3222a" stroke-width="1.4" fill="none"/>
<circle cx="398.5" cy="379.5" r="1.7" fill="#c80000"/>
<rect x="263.5" y="213.2" width="185.7" height="192.3" fill="none" stroke="#b0b0b0" stroke-width="1.4"/>
<line x1="261.3" x2="263.5" y1="387.60" y2="387.60" stroke="#666" stroke-width="0.9"/>
<text x="261.00" y="390.30" font-size="5.5" fill="#737373" text-anchor="end" style="will-change:transform">0</text>
<line x1="261.3" x2="263.5" y1="351.09" y2="351.09" stroke="#666" stroke-width="0.9"/>
<text x="261.00" y="353.79" font-size="5.5" fill="#737373" text-anchor="end" style="will-change:transform">10</text>
<line x1="261.3" x2="263.5" y1="314.58" y2="314.58" stroke="#666" stroke-width="0.9"/>
<text x="261.00" y="317.28" font-size="5.5" fill="#737373" text-anchor="end" style="will-change:transform">20</text>
<line x1="261.3" x2="263.5" y1="278.07" y2="278.07" stroke="#666" stroke-width="0.9"/>
<text x="261.00" y="280.77" font-size="5.5" fill="#737373" text-anchor="end" style="will-change:transform">30</text>
<line x1="261.3" x2="263.5" y1="241.56" y2="241.56" stroke="#666" stroke-width="0.9"/>
<text x="261.00" y="244.26" font-size="5.5" fill="#737373" text-anchor="end" style="will-change:transform">40</text>
<line x1="314.2" x2="314.2" y1="405.5" y2="407.5" stroke="#666" stroke-width="0.9"/>
<text x="314.2" y="412.5" font-size="5.3" fill="#5a5a5a" text-anchor="middle" style="will-change:transform">Female</text>
<line x1="398.5" x2="398.5" y1="405.5" y2="407.5" stroke="#666" stroke-width="0.9"/>
<text x="398.5" y="412.5" font-size="5.3" fill="#5a5a5a" text-anchor="middle" style="will-change:transform">Male</text>
<text x="0" y="0" transform="translate(253.1,309.4) rotate(-90)" font-size="6.95" fill="#000" text-anchor="middle">No. sel.PE | Education + Age</text>
</svg></body></html>
